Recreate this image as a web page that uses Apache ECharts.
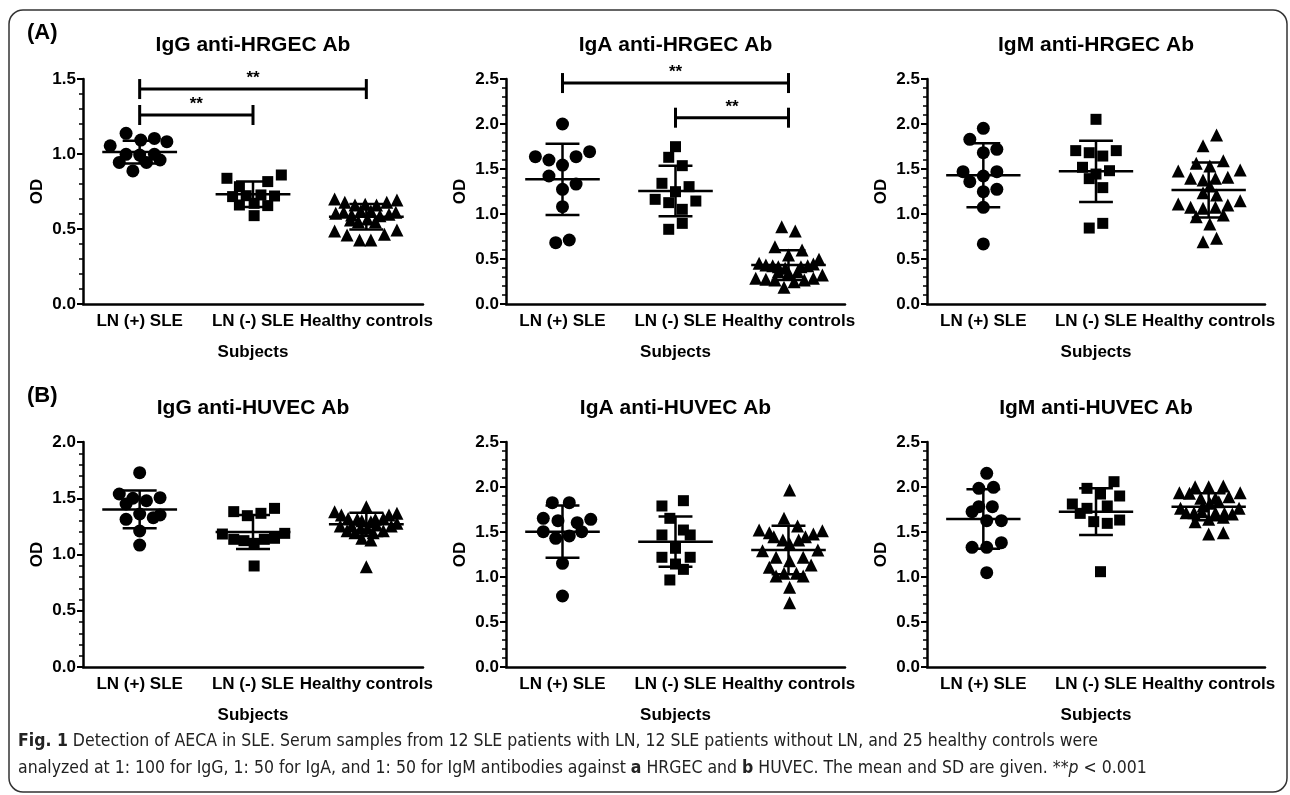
<!DOCTYPE html>
<html>
<head>
<meta charset="utf-8">
<title>Detection of AECA in SLE</title>
<script src="https://cdn.jsdelivr.net/npm/echarts@6/dist/echarts.min.js"></script>
<style>
  html, body { margin: 0; padding: 0; background: #fff; }
  #chart { width: 1290px; height: 795px; }
</style>
</head>
<body>
<div id="chart"></div>
<script>
// groups shown on every x axis
const categories = ['LN (+) SLE', 'LN (-) SLE', 'Healthy controls'];
const groupSymbols = ['circle', 'rect', 'triangle'];

const panelTitles = [
  'IgG anti-HRGEC Ab', 'IgA anti-HRGEC Ab', 'IgM anti-HRGEC Ab',
  'IgG anti-HUVEC Ab', 'IgA anti-HUVEC Ab', 'IgM anti-HUVEC Ab',
];
const yMaxes = [1.5, 2.5, 2.5, 2.0, 2.5, 2.5];

// each point: [horizontal scatter offset from group centre, OD]
const hrgecIgG = [
  [[-0.12, 1.138], [-0.26, 1.055], [0.01, 1.093], [0.13, 1.104], [0.24, 1.082], [-0.12, 0.998],
   [0, 0.993], [0.13, 0.998], [-0.18, 0.944], [0.06, 0.944], [0.18, 0.96], [-0.06, 0.887]],
  [[-0.23, 0.838], [0.25, 0.86], [-0.12, 0.782], [0.13, 0.816], [-0.18, 0.716], [-0.06, 0.722],
   [0.07, 0.727], [0.19, 0.72], [-0.12, 0.66], [0.01, 0.671], [0.13, 0.656], [0.01, 0.589]],
  [[-0.28, 0.70], [-0.19, 0.678], [-0.10, 0.66], [-0.01, 0.665], [0.09, 0.66], [0.18, 0.678],
   [0.27, 0.693], [-0.27, 0.605], [-0.20, 0.611], [-0.13, 0.593], [-0.05, 0.62], [0.04, 0.62],
   [0.12, 0.589], [0.20, 0.598], [0.26, 0.611], [-0.14, 0.56], [-0.07, 0.549], [0.01, 0.567],
   [0.08, 0.549], [-0.28, 0.487], [-0.17, 0.46], [0.16, 0.465], [0.27, 0.493], [-0.06, 0.427],
   [0.04, 0.427]],
];
const hrgecIgA = [
  [[0, 2.0], [-0.24, 1.637], [-0.12, 1.6], [0.12, 1.637], [0.24, 1.693], [0, 1.544],
   [-0.12, 1.422], [0.12, 1.333], [0, 1.274], [0, 1.081], [-0.06, 0.681], [0.06, 0.711]],
  [[0, 1.748], [-0.06, 1.63], [0.06, 1.537], [-0.12, 1.341], [0.12, 1.304], [0, 1.248],
   [-0.18, 1.163], [-0.06, 1.126], [0.18, 1.144], [0.06, 1.052], [0.06, 0.896], [-0.06, 0.83]],
  [[-0.06, 0.859], [0.06, 0.811], [-0.12, 0.637], [0.12, 0.6], [0, 0.544], [0.27, 0.496],
   [-0.26, 0.452], [-0.20, 0.433], [-0.14, 0.426], [-0.09, 0.415], [-0.03, 0.396], [0.11, 0.415],
   [0.17, 0.426], [0.22, 0.444], [-0.09, 0.359], [0, 0.348], [0.08, 0.359], [-0.29, 0.285],
   [-0.20, 0.274], [-0.12, 0.267], [0.05, 0.248], [0.14, 0.267], [0.22, 0.285], [0.30, 0.322],
   [-0.04, 0.185]],
];
const hrgecIgM = [
  [[0, 1.952], [-0.12, 1.83], [0, 1.681], [0.12, 1.719], [-0.18, 1.47], [0, 1.422],
   [0.12, 1.47], [-0.12, 1.359], [0, 1.248], [0.12, 1.274], [0, 1.074], [0, 0.667]],
  [[0, 2.052], [-0.18, 1.704], [-0.06, 1.681], [0.06, 1.644], [0.18, 1.704], [-0.12, 1.519],
   [0, 1.444], [0.12, 1.481], [-0.06, 1.393], [0.06, 1.293], [-0.06, 0.844], [0.06, 0.896]],
  [[0.07, 1.878], [-0.05, 1.759], [-0.11, 1.563], [0.13, 1.593], [0.01, 1.533], [-0.27, 1.478],
   [0.28, 1.489], [-0.16, 1.396], [-0.05, 1.378], [0.06, 1.396], [0.17, 1.407], [-0.05, 1.237],
   [0.07, 1.211], [-0.27, 1.111], [-0.16, 1.074], [-0.05, 1.063], [0.06, 1.074], [0.17, 1.1],
   [0.28, 1.148], [-0.11, 0.97], [0.13, 0.989], [0.01, 0.889], [-0.05, 0.693], [0.07, 0.73],
   [0.01, 1.311]],
];
const huvecIgG = [
  [[0, 1.727], [-0.18, 1.538], [-0.06, 1.5], [0.06, 1.478], [0.18, 1.505], [-0.12, 1.449],
   [0, 1.36], [-0.12, 1.313], [0.12, 1.327], [0.18, 1.351], [0, 1.209], [0, 1.084]],
  [[-0.17, 1.381], [-0.05, 1.345], [0.07, 1.366], [0.19, 1.41], [-0.27, 1.182], [-0.17, 1.135],
   [-0.08, 1.123], [0.01, 1.099], [0.10, 1.135], [0.19, 1.144], [0.28, 1.188], [0.01, 0.898]],
  [[0, 1.425], [-0.28, 1.381], [0.27, 1.366], [-0.22, 1.351], [0.20, 1.351], [-0.16, 1.321],
   [-0.08, 1.313], [0.08, 1.313], [0.15, 1.321], [-0.04, 1.3], [0.04, 1.292], [-0.23, 1.253],
   [-0.13, 1.253], [0.09, 1.262], [0.22, 1.253], [-0.05, 1.233], [0.01, 1.233], [-0.17, 1.212],
   [0.15, 1.212], [-0.10, 1.194], [0.06, 1.194], [-0.04, 1.144], [0.04, 1.129], [0, 0.892],
   [0.27, 1.277]],
];
const huvecIgA = [
  [[-0.09, 1.826], [0.06, 1.826], [-0.17, 1.652], [-0.04, 1.626], [0.13, 1.604], [0.25, 1.641],
   [-0.17, 1.504], [-0.06, 1.43], [0.06, 1.456], [0.17, 1.504], [0, 1.152], [0, 0.789]],
  [[0.07, 1.848], [-0.12, 1.789], [-0.05, 1.652], [0.07, 1.522], [-0.12, 1.467], [0.13, 1.467],
   [0, 1.319], [-0.12, 1.219], [0.13, 1.219], [0, 1.144], [0.07, 1.085], [-0.05, 0.967]],
  [[0.01, 1.967], [-0.04, 1.652], [0.08, 1.567], [-0.26, 1.522], [-0.17, 1.493], [-0.13, 1.448],
   [-0.05, 1.411], [0.01, 1.367], [0.09, 1.411], [0.15, 1.448], [0.22, 1.478], [0.30, 1.515],
   [-0.23, 1.293], [0.26, 1.3], [-0.11, 1.219], [0.01, 1.181], [0.13, 1.219], [-0.17, 1.107],
   [0.20, 1.133], [-0.11, 1.011], [-0.04, 1.041], [0.07, 1.041], [0.13, 1.011], [0.01, 0.885],
   [0.01, 0.715]],
];
const huvecIgM = [
  [[0.03, 2.152], [-0.04, 1.985], [0.09, 1.996], [-0.04, 1.781], [0.08, 1.781], [-0.10, 1.726],
   [0.03, 1.626], [0.16, 1.626], [-0.10, 1.33], [0.03, 1.33], [0.16, 1.381], [0.03, 1.048]],
  [[0.16, 2.059], [-0.08, 1.985], [0.04, 1.922], [0.21, 1.9], [-0.21, 1.811], [-0.08, 1.763],
   [0.10, 1.789], [-0.14, 1.707], [-0.02, 1.615], [0.10, 1.596], [0.21, 1.633], [0.04, 1.059]],
  [[-0.26, 1.937], [-0.12, 2.004], [0, 2.004], [0.13, 2.011], [0.28, 1.937], [-0.17, 1.93],
   [-0.07, 1.874], [0.06, 1.874], [0.18, 1.893], [-0.05, 1.789], [0.01, 1.819], [0.09, 1.837],
   [-0.25, 1.763], [0.27, 1.763], [-0.20, 1.715], [-0.13, 1.715], [-0.06, 1.726], [0.06, 1.715],
   [0.14, 1.707], [0.21, 1.7], [-0.12, 1.615], [0, 1.641], [0.13, 1.663], [0, 1.478], [0.13, 1.493]],
];

// mean and SD per group, as drawn
const hrgecIgGMean = [1.013, 0.731, 0.582];
const hrgecIgGSd = [0.076, 0.085, 0.085];
const hrgecIgAMean = [1.385, 1.256, 0.433];
const hrgecIgASd = [0.395, 0.28, 0.165];
const hrgecIgMMean = [1.43, 1.474, 1.267];
const hrgecIgMSd = [0.355, 0.34, 0.305];
const huvecIgGMean = [1.401, 1.2, 1.268];
const huvecIgGSd = [0.167, 0.151, 0.104];
const huvecIgAMean = [1.504, 1.393, 1.3];
const huvecIgASd = [0.29, 0.278, 0.27];
const huvecIgMMean = [1.644, 1.726, 1.781];
const huvecIgMSd = [0.33, 0.26, 0.15];

// significance brackets: [from group, to group, OD level]
const hrgecIgGSig = [[0, 2, 1.433], [0, 1, 1.26]];
const hrgecIgASig = [[0, 2, 2.455], [1, 2, 2.07]];

const panelPoints = [hrgecIgG, hrgecIgA, hrgecIgM, huvecIgG, huvecIgA, huvecIgM];
const panelMeans = [hrgecIgGMean, hrgecIgAMean, hrgecIgMMean, huvecIgGMean, huvecIgAMean, huvecIgMMean];
const panelSds = [hrgecIgGSd, hrgecIgASd, hrgecIgMSd, huvecIgGSd, huvecIgASd, huvecIgMSd];
const panelSig = [hrgecIgGSig, hrgecIgASig, [], [], [], []];

const FONT = "'Liberation Sans', Arial, sans-serif";
const CAPTION_FONT = "'Liberation Sans Narrow', 'DejaVu Sans Condensed', 'Liberation Sans', sans-serif";
const gridLefts = [83, 506, 927];
const gridWidths = [340, 339, 338];
const gridTops = [79, 442];
const gridHeight = 225;

const symbolSizes = { circle: 13, rect: 11, triangle: 13 };

const chart = echarts.init(document.getElementById('chart'), null, { renderer: 'canvas' });

function renderMeanSd(params, api) {
  const g = api.value(0);
  const m = api.value(1);
  const s = api.value(2);
  const mid = api.coord([g, m]);
  const hi = api.coord([g, m + s]);
  const lo = api.coord([g, m - s]);
  const unit = api.size([1, 0])[0];
  const mw = unit * 0.33;
  const cw = unit * 0.15;
  const style = { stroke: '#000', lineWidth: 2.5 };
  return {
    type: 'group',
    children: [
      { type: 'line', shape: { x1: mid[0] - mw, y1: mid[1], x2: mid[0] + mw, y2: mid[1] }, style },
      { type: 'line', shape: { x1: hi[0], y1: hi[1], x2: lo[0], y2: lo[1] }, style },
      { type: 'line', shape: { x1: hi[0] - cw, y1: hi[1], x2: hi[0] + cw, y2: hi[1] }, style },
      { type: 'line', shape: { x1: lo[0] - cw, y1: lo[1], x2: lo[0] + cw, y2: lo[1] }, style },
    ],
  };
}

function renderBracket(params, api) {
  const a = api.coord([api.value(0), api.value(2)]);
  const b = api.coord([api.value(1), api.value(2)]);
  const h = 10;
  const style = { stroke: '#000', lineWidth: 3 };
  return {
    type: 'group',
    children: [
      { type: 'line', shape: { x1: a[0], y1: a[1], x2: b[0], y2: b[1] }, style },
      { type: 'line', shape: { x1: a[0], y1: a[1] - h, x2: a[0], y2: a[1] + h }, style },
      { type: 'line', shape: { x1: b[0], y1: b[1] - h, x2: b[0], y2: b[1] + h }, style },
      {
        type: 'text',
        x: (a[0] + b[0]) / 2,
        y: a[1] - 2,
        style: {
          text: '**', align: 'center', verticalAlign: 'bottom',
          fontSize: 17, fontWeight: 'bold', fontFamily: FONT, fill: '#000',
        },
      },
    ],
  };
}

const grids = [];
const xAxes = [];
const yAxes = [];
const series = [];
const graphics = [];

panelTitles.forEach((title, i) => {
  const col = i % 3;
  const row = Math.floor(i / 3);
  const left = gridLefts[col];
  const top = gridTops[row];
  grids.push({ left, top, width: gridWidths[col], height: gridHeight });

  xAxes.push({
    type: 'category',
    gridIndex: i,
    data: categories,
    boundaryGap: true,
    name: 'Subjects',
    nameLocation: 'middle',
    nameGap: 40,
    nameTextStyle: { fontFamily: FONT, fontWeight: 'bold', fontSize: 17, color: '#000' },
    axisLine: { onZero: false, lineStyle: { color: '#000', width: 2.5 } },
    axisTick: { alignWithLabel: true, length: 7, lineStyle: { color: '#000', width: 2.5 } },
    axisLabel: { interval: 0, margin: 9, fontFamily: FONT, fontWeight: 'bold', fontSize: 17, color: '#000' },
    splitLine: { show: false },
  });
  xAxes.push({
    type: 'value',
    gridIndex: i,
    min: -0.5,
    max: 2.5,
    show: false,
  });

  yAxes.push({
    type: 'value',
    gridIndex: i,
    min: 0,
    max: yMaxes[i],
    interval: 0.5,
    name: 'OD',
    nameLocation: 'middle',
    nameRotate: 90,
    nameGap: 37,
    nameTextStyle: { fontFamily: FONT, fontWeight: 'bold', fontSize: 17, color: '#000' },
    axisLine: { show: true, onZero: false, lineStyle: { color: '#000', width: 2.5 } },
    axisTick: { show: true, length: 6, lineStyle: { color: '#000', width: 2 } },
    minorTick: { show: true, splitNumber: 5, length: 4, lineStyle: { color: '#000', width: 1.5 } },
    axisLabel: {
      margin: 7, fontFamily: FONT, fontWeight: 'bold', fontSize: 17, color: '#000',
      formatter: (v) => v.toFixed(1),
    },
    splitLine: { show: false },
  });

  panelPoints[i].forEach((pts, g) => {
    const sym = groupSymbols[g];
    series.push({
      type: 'scatter',
      xAxisIndex: 2 * i + 1,
      yAxisIndex: i,
      symbol: sym,
      symbolSize: symbolSizes[sym],
      itemStyle: { color: '#000', opacity: 1 },
      silent: true,
      data: pts.map((p) => [g + p[0], p[1]]),
    });
  });

  series.push({
    type: 'custom',
    xAxisIndex: 2 * i + 1,
    yAxisIndex: i,
    silent: true,
    z: 5,
    renderItem: renderMeanSd,
    encode: { x: 0, y: 1 },
    data: panelMeans[i].map((m, g) => [g, m, panelSds[i][g]]),
  });

  if (panelSig[i].length) {
    series.push({
      type: 'custom',
      xAxisIndex: 2 * i + 1,
      yAxisIndex: i,
      silent: true,
      clip: false,
      renderItem: renderBracket,
      encode: { x: 0, y: 2 },
      data: panelSig[i],
    });
  }

  graphics.push({
    type: 'text',
    x: left + gridWidths[col] / 2,
    y: row === 0 ? 45 : 408,
    style: {
      text: title, align: 'center', verticalAlign: 'middle',
      fontFamily: FONT, fontWeight: 'bold', fontSize: 21, fill: '#000',
    },
  });
});

// panel letters
graphics.push(
  { type: 'text', x: 27, y: 33, style: { text: '(A)', verticalAlign: 'middle', fontFamily: FONT, fontWeight: 'bold', fontSize: 22, fill: '#000' } },
  { type: 'text', x: 27, y: 396, style: { text: '(B)', verticalAlign: 'middle', fontFamily: FONT, fontWeight: 'bold', fontSize: 22, fill: '#000' } }
);

// caption
const CAPTION_SIZE = 17.5;
const captionRich = {
  b: { fontFamily: CAPTION_FONT, fontWeight: 'bold', fontSize: CAPTION_SIZE, fill: '#222' },
  i: { fontFamily: CAPTION_FONT, fontStyle: 'italic', fontSize: CAPTION_SIZE, fill: '#222' },
};
graphics.push(
  {
    type: 'text', x: 18, y: 741,
    style: {
      text: '{b|Fig. 1} Detection of AECA in SLE. Serum samples from 12 SLE patients with LN, 12 SLE patients without LN, and 25 healthy controls were',
      verticalAlign: 'middle', fontFamily: CAPTION_FONT, fontSize: CAPTION_SIZE, fill: '#222', rich: captionRich,
    },
  },
  {
    type: 'text', x: 18, y: 768,
    style: {
      text: 'analyzed at 1: 100 for IgG, 1: 50 for IgA, and 1: 50 for IgM antibodies against {b|a} HRGEC and {b|b} HUVEC. The mean and SD are given. **{i|p} < 0.001',
      verticalAlign: 'middle', fontFamily: CAPTION_FONT, fontSize: CAPTION_SIZE, fill: '#222', rich: captionRich,
    },
  },
  {
    type: 'rect',
    shape: { x: 9, y: 10, width: 1278, height: 782, r: 14 },
    style: { fill: 'none', stroke: '#333', lineWidth: 1.5 },
  }
);

chart.setOption({
  backgroundColor: '#fff',
  animation: false,
  grid: grids,
  xAxis: xAxes,
  yAxis: yAxes,
  series,
  graphic: graphics,
});
</script>
</body>
</html>
